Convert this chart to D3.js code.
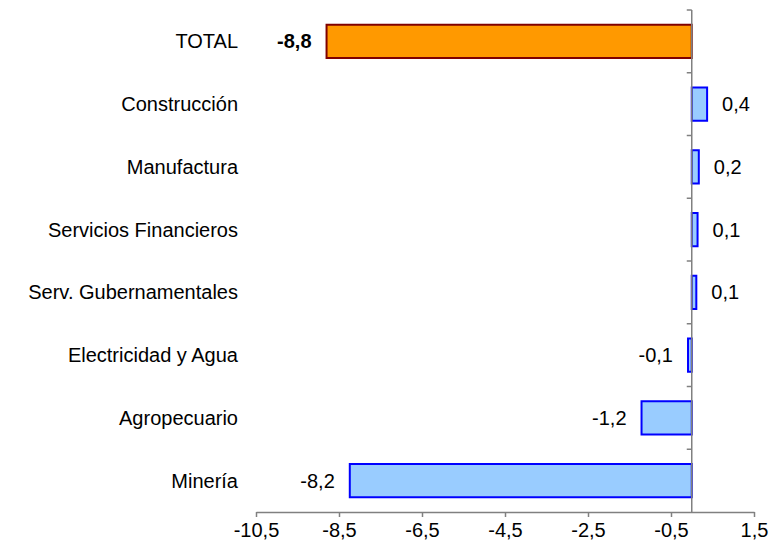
<!DOCTYPE html>
<html>
<head>
<meta charset="utf-8">
<script src="https://cdn.jsdelivr.net/npm/d3@7"></script>
<style>
  html, body { margin: 0; padding: 0; background: #fff; }
  svg { display: block; }
  text { font-family: "Liberation Sans", Arial, sans-serif; fill: #000; }
</style>
</head>
<body>
<svg id="chart" width="784" height="546"></svg>
<script>
const categories = ["TOTAL", "Construcción", "Manufactura", "Servicios Financieros",
  "Serv. Gubernamentales", "Electricidad y Agua", "Agropecuario", "Minería"];
const values = [-8.8, 0.37, 0.17, 0.14, 0.11, -0.09, -1.21, -8.24];
const highlight = ["TOTAL"];
const xTicks = [-10.5, -8.5, -6.5, -4.5, -2.5, -0.5, 1.5];

const locale = d3.formatLocale({ decimal: ",", thousands: ".", grouping: [3], currency: ["", ""], minus: "-" });
const fmt = locale.format(".1f");

const svg = d3.select("#chart");
const plotLeft = 256, plotRight = 754, plotTop = 10, plotBottom = 512;

const x = d3.scaleLinear().domain([-10.5, 1.5]).range([plotLeft, plotRight]);
const y = d3.scaleBand().domain(categories).range([plotTop, plotBottom]).paddingInner(0.47).paddingOuter(0.235);
const yBounds = d3.scaleBand().domain(categories).range([plotTop, plotBottom]).padding(0);

const data = categories.map((c, i) => ({ c, v: values[i] }));

// bars
svg.append("g").selectAll("rect").data(data).join("rect")
  .attr("x", d => x(Math.min(0, d.v)))
  .attr("y", d => y(d.c))
  .attr("width", d => Math.abs(x(d.v) - x(0)))
  .attr("height", y.bandwidth())
  .attr("fill", d => highlight.includes(d.c) ? "#FF9900" : "#99CCFF")
  .attr("stroke", d => highlight.includes(d.c) ? "#800000" : "#0000FF")
  .attr("stroke-width", 2);

// x axis
const xAxis = d3.axisBottom(x).tickValues(xTicks).tickFormat(fmt).tickSize(5).tickPadding(6).tickSizeOuter(0);
const gx = svg.append("g").attr("transform", `translate(0,${plotBottom})`).call(xAxis);
gx.select(".domain").attr("stroke", "#808080").attr("stroke-width", 1.5);
gx.selectAll(".tick line").attr("stroke", "#808080").attr("stroke-width", 1.5);
gx.selectAll(".tick text").style("font-size", "20px").attr("fill", "#000");

// y axis at zero
const zx = x(0);
svg.append("line").attr("x1", zx).attr("x2", zx).attr("y1", plotTop).attr("y2", plotBottom)
  .attr("stroke", "#808080").attr("stroke-width", 1.5);
const boundaries = categories.map(c => yBounds(c));
svg.append("g").selectAll("line").data(boundaries).join("line")
  .attr("x1", zx - 5).attr("x2", zx).attr("y1", d => d).attr("y2", d => d)
  .attr("stroke", "#808080").attr("stroke-width", 1.5);

// category labels
svg.append("g").selectAll("text").data(data).join("text")
  .attr("x", 238)
  .attr("y", d => y(d.c) + y.bandwidth() / 2)
  .attr("dy", "0.35em")
  .attr("text-anchor", "end")
  .style("font-size", "20px")
  .text(d => d.c);

// value labels
svg.append("g").selectAll("text").data(data).join("text")
  .attr("x", d => d.v >= 0 ? x(d.v) + 15 : x(d.v) - 15)
  .attr("y", d => y(d.c) + y.bandwidth() / 2)
  .attr("dy", "0.35em")
  .attr("text-anchor", d => d.v >= 0 ? "start" : "end")
  .style("font-size", "20px")
  .style("font-weight", d => highlight.includes(d.c) ? "bold" : "normal")
  .text(d => fmt(d.v));
</script>
</body>
</html>
